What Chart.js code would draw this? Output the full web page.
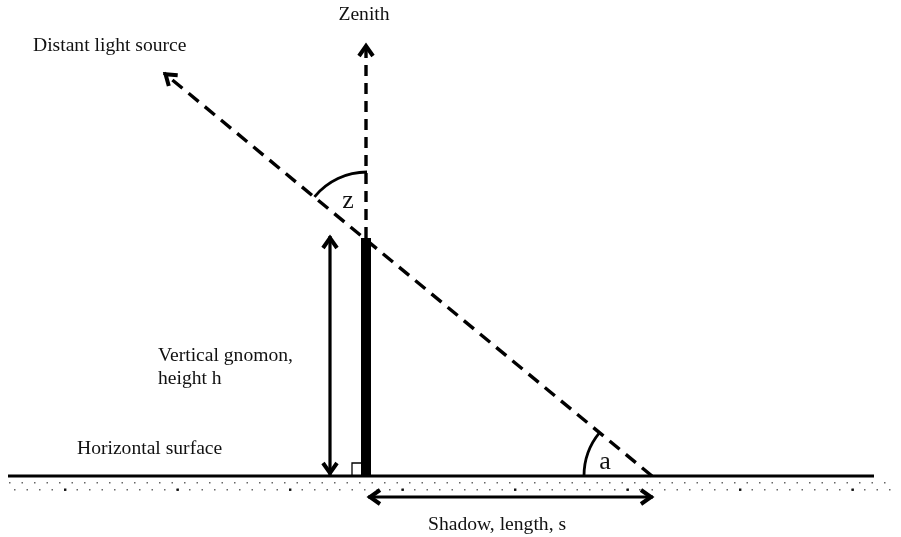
<!DOCTYPE html>
<html>
<head>
<meta charset="utf-8">
<script src="https://cdn.jsdelivr.net/npm/chart.js@4.4.0/dist/chart.umd.min.js"></script>
<style>
html,body{margin:0;padding:0;background:#fff;}
#wrap{width:901px;height:537px;}
</style>
</head>
<body>
<div id="wrap"><canvas id="c" width="901" height="537"></canvas></div>
<script>
// Diagram geometry in drawing units (x: 0..901, y: 0..537 downward)
const groundLine   = [{x: 8, y: 476}, {x: 874, y: 476}];
const gnomonBar    = [{x: 366, y: 238}, {x: 366, y: 476}];
const zenithRay    = [{x: 366, y: 238}, {x: 366, y: 44}];
const sunRay       = [{x: 652, y: 476}, {x: 164, y: 73}];
const heightArrow  = [{x: 330, y: 236}, {x: 330, y: 475}];
const shadowArrow  = [{x: 368, y: 497}, {x: 653, y: 497}];
const rightAngle   = [{x: 352, y: 476}, {x: 352, y: 463}, {x: 362, y: 463}];

// Angle arcs: centre, radius, from-point, to-point
const zenithArc = {cx: 367, cy: 240, r: 68, from: {x: 164, y: 73}, to: {x: 367, y: 44}};
const altArc    = {cx: 652, cy: 476, r: 68, from: {x: 8, y: 476}, to: {x: 164, y: 73}};

// Text labels
const labelTexts = ["Zenith", "Distant light source", "Vertical gnomon,", "height h", "Horizontal surface", "Shadow, length, s", "z", "a"];
const labelX     = [364, 33, 158, 158, 77, 428, 348, 605];
const labelY     = [15, 46, 356, 379, 449, 525, 201, 462];
const labelAlign = ["center", "left", "left", "left", "left", "left", "center", "center"];
const labelSize  = [19.6, 19.6, 19.6, 19.6, 19.6, 19.6, 26, 26];

const overlay = {
  id: 'overlay',
  afterDatasetsDraw(chart) {
    const ctx = chart.ctx, xs = chart.scales.x, ys = chart.scales.y;
    const px = v => xs.getPixelForValue(v), py = v => ys.getPixelForValue(v);
    ctx.save();
    // ground texture dots
    ctx.fillStyle = '#666';
    const gx0 = px(8), gx1 = px(884);
    let k = 0;
    for (let x = gx0; x < gx1; x += 12.5, k++) {
      ctx.fillRect(x + 1, py(482), 1.5, 1.5);
      ctx.fillRect(x + 6, py(489), 1.5, 1.5);
      if (k % 9 === 4) { ctx.fillStyle = '#111'; ctx.fillRect(x + 6, py(488.5), 2.4, 2.4); ctx.fillStyle = '#666'; }
    }
    // arrowheads
    chart.data.datasets.forEach((ds) => {
      if (!ds.arrows) return;
      const d = ds.data;
      const heads = [];
      if (ds.arrows === 'end' || ds.arrows === 'both') heads.push([d[d.length - 2], d[d.length - 1]]);
      if (ds.arrows === 'both') heads.push([d[1], d[0]]);
      heads.forEach(([a, b]) => {
        const x1 = px(a.x), y1 = py(a.y), x2 = px(b.x), y2 = py(b.y);
        const ang = Math.atan2(y2 - y1, x2 - x1);
        const L = 10, W = 7;
        ctx.beginPath();
        ctx.strokeStyle = '#000';
        ctx.lineWidth = 4;
        ctx.lineJoin = 'miter';
        ctx.setLineDash([]);
        const tx = x2 - 2 * Math.cos(ang), ty = y2 - 2 * Math.sin(ang);
        const bx = tx - L * Math.cos(ang), by = ty - L * Math.sin(ang);
        ctx.moveTo(bx + W * Math.sin(ang), by - W * Math.cos(ang));
        ctx.lineTo(tx, ty);
        ctx.lineTo(bx - W * Math.sin(ang), by + W * Math.cos(ang));
        ctx.stroke();
      });
    });
    // arcs
    [zenithArc, altArc].forEach(a => {
      const cx = px(a.cx), cy = py(a.cy);
      const a1 = Math.atan2(py(a.from.y) - cy, px(a.from.x) - cx);
      const a2 = Math.atan2(py(a.to.y) - cy, px(a.to.x) - cx);
      ctx.beginPath();
      ctx.strokeStyle = '#000';
      ctx.lineWidth = 2.8;
      ctx.setLineDash([]);
      ctx.arc(cx, cy, a.r, a1, a2, false);
      ctx.stroke();
    });
    // labels
    ctx.fillStyle = '#111';
    ctx.textBaseline = 'middle';
    labelTexts.forEach((t, i) => {
      ctx.font = labelSize[i] + 'px "Liberation Serif", "Times New Roman", serif';
      ctx.textAlign = labelAlign[i];
      ctx.fillText(t, px(labelX[i]), py(labelY[i]));
    });
    ctx.restore();
  }
};

const line = (data, width, extra) => Object.assign({
  data, showLine: true, borderColor: '#000', backgroundColor: '#000',
  borderWidth: width, pointRadius: 0, tension: 0, fill: false
}, extra || {});

new Chart(document.getElementById('c'), {
  type: 'scatter',
  data: {
    datasets: [
      line(groundLine, 3.2),
      line(zenithRay, 3.4, {borderDash: [11, 7], arrows: 'end'}),
      line(sunRay, 3.4, {borderDash: [13, 8], arrows: 'end'}),
      line(gnomonBar, 10, {borderCapStyle: 'butt'}),
      line(heightArrow, 3.2, {arrows: 'both'}),
      line(shadowArrow, 3.2, {arrows: 'both'}),
      line(rightAngle, 1.3)
    ]
  },
  options: {
    responsive: false,
    devicePixelRatio: 1,
    animation: false,
    layout: {padding: 0},
    plugins: {legend: {display: false}, tooltip: {enabled: false}},
    scales: {
      x: {type: 'linear', min: 0, max: 901, display: false},
      y: {type: 'linear', min: 0, max: 537, reverse: true, display: false}
    }
  },
  plugins: [overlay]
});
</script>
</body>
</html>
